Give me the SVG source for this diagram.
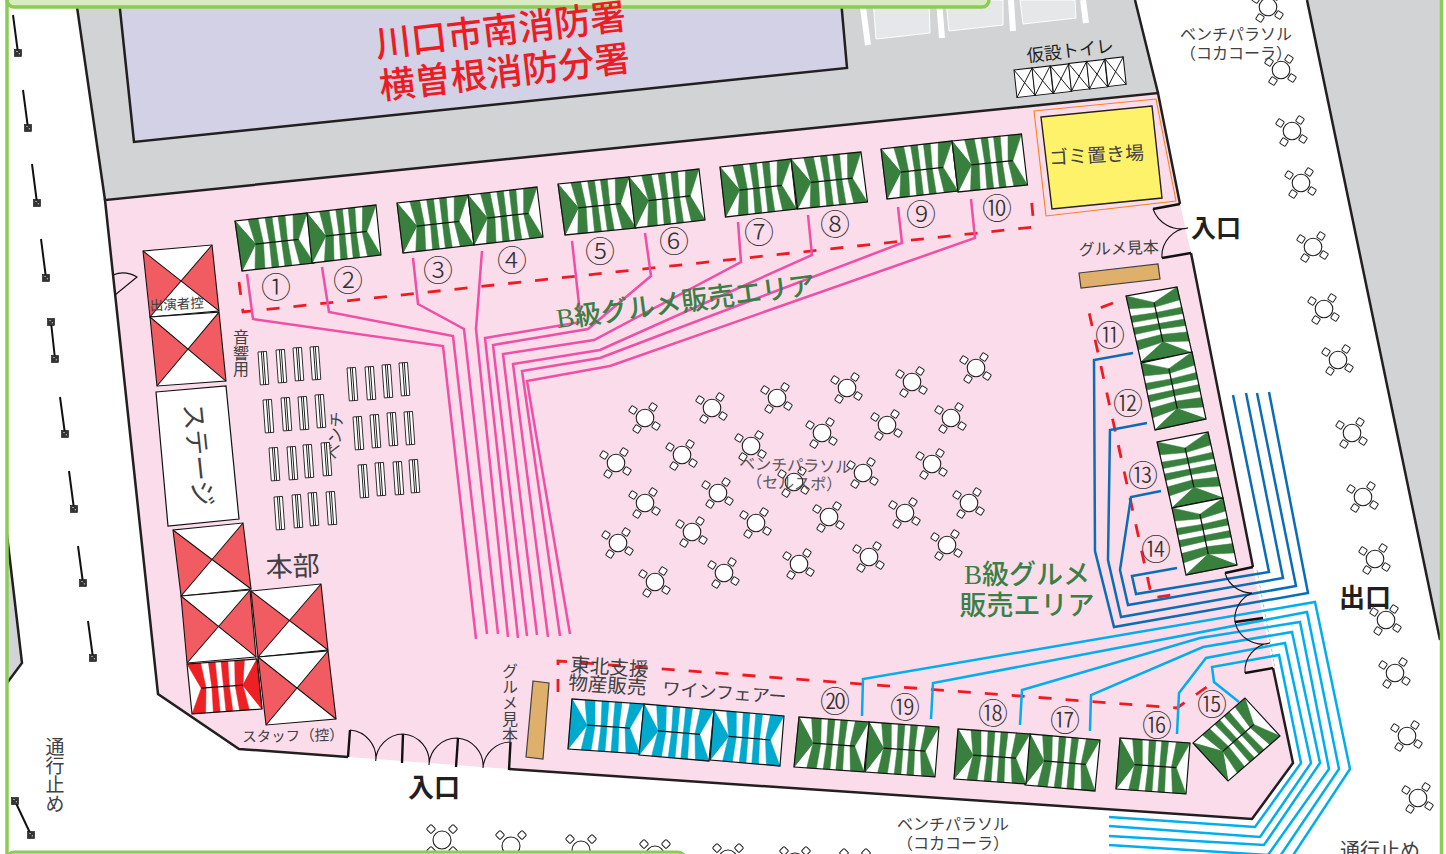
<svg xmlns="http://www.w3.org/2000/svg" width="1446" height="854" viewBox="0 0 1446 854">
<style>
text{font-family:"Noto Sans CJK JP","Noto Sans CJK SC",sans-serif;fill:#414042;text-anchor:middle}
.serif{font-family:"Liberation Serif","Noto Sans CJK JP",serif;fill:#3a7f45;font-size:27px;font-weight:500}
.red{fill:#ed1c24;font-size:36px;font-weight:500}
.n{font-size:30px;fill:#333;font-weight:300}
.b{font-weight:700;fill:#231f20}
.v{writing-mode:vertical-rl}
.edge{fill:none;stroke:#231f20;stroke-width:2.5}
.thin{fill:none;stroke:#111;stroke-width:1.1}
.wall{fill:none;stroke:#111;stroke-width:2.4}
.pink{fill:none;stroke:#ef4fa6;stroke-width:2.5}
.blue{fill:none;stroke:#0a6db5;stroke-width:2.5}
.cyan{fill:none;stroke:#00aeef;stroke-width:2.5}
.dash{fill:none;stroke:#ed1c24;stroke-width:2.8;stroke-dasharray:13 14}
.barr{stroke:#111;stroke-width:2}
</style>
<defs>
<g id="half"><path d="M0,0L17,25L0,50ZM13,0L23,0L25,25L17,25ZM30,0L37,0L37,25L31,25ZM43,0L50,0L49,25L43,25ZM58,0L72,0L60,25L55,25Z" fill="currentColor" stroke="currentColor" stroke-width=".5"/></g>
<g id="tent"><rect width="72" height="50" fill="#fff"/><use href="#half"/><use href="#half" transform="matrix(1 0 0 -1 0 50)"/><rect width="72" height="50" fill="none" stroke="#111" stroke-width="1.2"/><path d="M17,25H60" stroke="#111" stroke-width="1.2"/></g>
<g id="big"><rect width="70" height="67" fill="#fff"/><path d="M0,0L35,33.5L0,67ZM70,0L35,33.5L70,67Z" fill="#f15b62"/><path d="M0,0L70,67M70,0L0,67" stroke="#111"/><rect width="70" height="67" fill="none" stroke="#111" stroke-width="1.1"/></g>
<g id="cell"><rect width="18" height="27" fill="#fff" stroke="#111"/><path d="M0,0L18,27M18,0L0,27" stroke="#111" stroke-width=".9"/></g>
<g id="chair"><rect x="-3.3" y="-3.3" width="6.6" height="6.6" rx="1.2" fill="#fff" stroke="#231f20" stroke-width="1"/></g>
<g id="par"><use href="#chair" transform="translate(-12,-8) rotate(33)"/><use href="#chair" transform="translate(8,-11) rotate(33)"/><use href="#chair" transform="translate(11,8) rotate(33)"/><use href="#chair" transform="translate(-8,11) rotate(33)"/><circle r="8.8" fill="#fff" stroke="#231f20" stroke-width="1.1"/></g>
<g id="parb"><use href="#chair" transform="translate(-11,-11) rotate(45)"/><use href="#chair" transform="translate(11,-11) rotate(45)"/><use href="#chair" transform="translate(11,11) rotate(45)"/><use href="#chair" transform="translate(-11,11) rotate(45)"/><circle r="9" fill="#fff" stroke="#231f20" stroke-width="1.1"/></g>
<g id="bench" transform="rotate(-4)"><rect width="8.500" height="33" fill="#fff" stroke="#231f20" stroke-width=".9"/><path d="M3.400,0V33M5.300,0V33" stroke="#231f20"/></g>
<g id="sq"><rect x="-3.500" y="-3.500" width="7" height="7" fill="#333" stroke="#111" stroke-width=".6"/><path d="M-1.5,-1.5h1M.8,.8h1" stroke="#fff"/></g>
</defs>

<g id="ground">
<polygon points="76,0 1135,0 1158,93 105,200" fill="#d1d3d4"/>
<polygon points="1307,0 1440,0 1440,640" fill="#d1d3d4"/>
<polygon points="7,535 22,663 7,683" fill="#d1d3d4"/>
<path d="M7,535L22,663L7,683" class="edge"/>
<path d="M1307,0L1440,640" class="edge"/>
<path d="M76,0L105,200M1135,0L1158,93" class="edge"/>
<polygon points="119,0 841,0 847,68 134,142" fill="#d2d1e6"/>
<path d="M119,0L134,142L847,68L841,0" class="edge"/>
<polygon points="105,200 1158,93 1180,204 1191,253 1253,567 1273,668 1293,763 1252,819 509,769 348,757 239,749 158,694" fill="#fbdcea"/>
<path d="M1257,570L1275,668" fill="none" stroke="#a7a9ac" stroke-width=".8" stroke-dasharray="3 2"/>
<path d="M348,757L239,749L158,694L105,200L1158,93L1180,204M1191,253L1253,567M1273,668L1293,763L1252,819L509,769" class="edge"/>
</g>

<g id="parking">
<path d="M862,0L868,45" stroke="#fff" stroke-width="6"/><path d="M939,0L942,38" stroke="#fff" stroke-width="6"/><path d="M1011,0L1013,31" stroke="#fff" stroke-width="6"/><path d="M1083,0L1086,23" stroke="#fff" stroke-width="6"/>
<polygon points="873,0 929,0 930,33 876,39" fill="#e6e7e8" stroke="#fff"/>
<polygon points="946,0 1003,0 1003,25 949,31" fill="#e6e7e8" stroke="#fff"/>
<polygon points="1020,0 1075,0 1076,18 1023,24" fill="#e6e7e8" stroke="#fff"/>
</g>

<g id="connectors">
<path class="dash" d="M239,282L243,312L1034,227L1031,195"/>
<path class="dash" d="M1113,303L1089,312L1152,598L1177,594"/>
<path class="dash" d="M558,692L558,661L1177,708L1218,679"/>
<path class="pink" d="M247,274L253,319L443,346L476,639"/>
<path class="pink" d="M322,267L329,312L453,336L487,634"/>
<path class="pink" d="M413,258L418,304L464,329L498,634"/>
<path class="pink" d="M482,251L476,329L508,637"/>
<path class="pink" d="M572,241L581,322L485,338L518,638"/>
<path class="pink" d="M645,233L651,276L588,329L493,345L527,636"/>
<path class="pink" d="M738,222L741,262L594,340L503,354L537,635"/>
<path class="pink" d="M808,215L812,255L600,350L513,364L548,637"/>
<path class="pink" d="M898,207L902,243L600,358L522,371L560,636"/>
<path class="pink" d="M971,199L975,238L610,366L527,381L570,634"/>
<path class="blue" d="M1133,353L1094,360L1095,551L1114,627L1308,593L1269,392"/>
<path class="blue" d="M1147,423L1110,430L1108,560L1121,617L1296,586L1257,393"/>
<path class="blue" d="M1161,491L1131,497L1120,570L1128,605L1283,578L1246,393"/>
<path class="blue" d="M1177,568L1132,576L1136,594L1269,572L1233,395"/>
<path class="cyan" d="M1239,702L1214,682L1212,667L1279,655L1301,763L1255,827L1109,817"/>
<path class="cyan" d="M1177,734L1179,693L1206,658L1285,643L1311,763L1260,837L1109,826"/>
<path class="cyan" d="M1090,731L1091,695L1203,647L1292,632L1320,763L1264,845L1109,836"/>
<path class="cyan" d="M1020,725L1022,690L1200,638L1300,622L1329,769L1268,855L1109,845"/>
<path class="cyan" d="M931,719L933,683L1307,612L1339,769L1274,865L1109,855"/>
<path class="cyan" d="M862,716L863,679L1315,602L1350,769L1280,875L1109,865"/>
</g>

<g id="doors">
<path class="thin" d="M113,275Q125,270 137,277L115,295"/>
<path class="wall" d="M1153,209L1180,204M1162,258L1191,253"/>
<path class="thin" d="M1153,209A30,30 0 0 0 1188,228A28,28 0 0 0 1162,258"/>
<path class="wall" d="M348,757L350,730M403,734L402,763M458,738L456,767M510.5,742L509,770"/>
<path class="thin" d="M350,730A28,28 0 0 1 375.7,761A28,28 0 0 1 403,734A28,28 0 0 1 429,765A28,28 0 0 1 457,738A28,28 0 0 1 483,768A28,28 0 0 1 510,742"/>
<path class="wall" d="M1225,573L1253,567M1235,622L1263,618M1245,673L1273,668"/>
<path class="thin" d="M1225,573A28,28 0 0 0 1252,593A28,28 0 0 0 1235,622A28,28 0 0 0 1270,643A28,28 0 0 0 1245,673"/>
</g>

<g id="barriers">
<path class="barr" d="M13,15L18,53M23,90L28,128M32,164L37,203M41,239L46,278M51,322L55,359M60,397L65,434M69,471L74,509M78,546L83,583M88,621L93,658M15,801L31,835"/>
<use href="#sq" x="18" y="53"/><use href="#sq" x="28" y="128"/><use href="#sq" x="37" y="203"/><use href="#sq" x="46" y="278"/><use href="#sq" x="51" y="322"/><use href="#sq" x="55" y="359"/><use href="#sq" x="65" y="434"/><use href="#sq" x="74" y="509"/><use href="#sq" x="83" y="583"/><use href="#sq" x="93" y="658"/><use href="#sq" x="15" y="801"/><use href="#sq" x="31" y="835"/>
</g>

<g id="toilet">
<use href="#cell" transform="matrix(1.01 -.12 .11 1.02 1014 70)"/><use href="#cell" transform="matrix(1.01 -.12 .11 1.02 1032 68)"/><use href="#cell" transform="matrix(1.01 -.12 .11 1.02 1050.5 66)"/><use href="#cell" transform="matrix(1.01 -.12 .11 1.02 1068.5 63.5)"/><use href="#cell" transform="matrix(1.01 -.12 .11 1.02 1086.5 61.5)"/><use href="#cell" transform="matrix(1.01 -.12 .11 1.02 1105 59)"/>
</g>

<g id="garbage">
<polygon points="1034,111 1156,99 1176,201 1046,216" fill="none" stroke="#f58220" stroke-width="1.1"/>
<polygon points="1041,117 1152,106 1162,198 1052,209" fill="#fff26b" stroke="#231f20" stroke-width="1.4"/>
</g>
<g id="samples">
<polygon points="1079,273 1158,264 1160,279 1081,288" fill="#deb06c" stroke="#414042" stroke-width="1.2"/>
<polygon points="533,681 549,683 543,759 526,757" fill="#deb06c" stroke="#414042" stroke-width="1.2"/>
</g>
<g id="stage"><polygon points="156,392 226,386 239,519 168,526" fill="#fff" stroke="#111" stroke-width="1.2"/></g>

<g id="big-tents">
<use href="#big" transform="matrix(.986 -.086 .104 .985 143 251)"/>
<use href="#big" transform="matrix(.986 -.071 .104 1.03 150 317)"/>
<use href="#big" transform="matrix(1 -.1 .12 .985 173 530)"/>
<use href="#big" transform="matrix(.986 -.086 .09 1 181 596)"/>
<use href="#big" transform="matrix(1 -.1 .104 .985 251 591)"/>
<use href="#big" transform="matrix(1 -.086 .12 1.015 258 657)"/>
</g>

<g id="stalls-green" color="#39803f">
<use href="#tent" transform="matrix(1 -.111 .14 1 235 221)"/>
<use href="#tent" transform="matrix(.958 -.111 .1 1 307 213)"/>
<use href="#tent" transform="matrix(.986 -.111 .12 1 397 203)"/>
<use href="#tent" transform="matrix(.958 -.111 .12 1 468 195)"/>
<use href="#tent" transform="matrix(.986 -.097 .14 1.02 558 184)"/>
<use href="#tent" transform="matrix(.972 -.111 .12 1.02 629 177)"/>
<use href="#tent" transform="matrix(.986 -.111 .11 1 720 167)"/>
<use href="#tent" transform="matrix(.972 -.097 .13 1 791 159)"/>
<use href="#tent" transform="matrix(.986 -.111 .12 1 881 149)"/>
<use href="#tent" transform="matrix(.965 -.097 .12 1.02 952 141)"/>
<use href="#tent" transform="matrix(-.208 -.917 1.02 -.18 1141 362)"/>
<use href="#tent" transform="matrix(-.194 -.931 1.02 -.22 1155 430)"/>
<use href="#tent" transform="matrix(-.208 -.917 1.02 -.2 1172 508)"/>
<use href="#tent" transform="matrix(-.194 -.931 1.02 -.2 1186 575)"/>
<use href="#tent" transform="matrix(.722 -.625 .7 .76 1193 743)"/>
<use href="#tent" transform="matrix(.972 .069 -.08 1.02 1120 738)"/>
<use href="#tent" transform="matrix(.972 .083 -.1 1.02 1030 734)"/>
<use href="#tent" transform="matrix(1 .069 -.08 1 958 729)"/>
<use href="#tent" transform="matrix(.972 .069 -.08 1 869 722)"/>
<use href="#tent" transform="matrix(.972 .069 -.1 1 799 717)"/>
</g>
<g id="stalls-blue" color="#00a9ce">
<use href="#tent" transform="matrix(1 .069 -.08 1 572 699)"/>
<use href="#tent" transform="matrix(.972 .083 -.1 1.02 644 704)"/>
<use href="#tent" transform="matrix(.972 .083 -.08 1 714 710)"/>
</g>
<g id="stall-red" color="#ed2024"><use href="#tent" transform="matrix(-.972 .069 .1 1 257 659)"/></g>

<g id="benches">
<use href="#bench" x="258" y="352"/><use href="#bench" x="276" y="350"/><use href="#bench" x="293" y="348"/><use href="#bench" x="310" y="347"/>
<use href="#bench" x="263" y="400"/><use href="#bench" x="281" y="398"/><use href="#bench" x="298" y="397"/><use href="#bench" x="315" y="395"/>
<use href="#bench" x="269" y="448"/><use href="#bench" x="287" y="447"/><use href="#bench" x="303" y="445"/><use href="#bench" x="321" y="443"/>
<use href="#bench" x="274" y="497"/><use href="#bench" x="292" y="495"/><use href="#bench" x="308" y="493"/><use href="#bench" x="326" y="492"/>
<use href="#bench" x="347" y="368"/><use href="#bench" x="365" y="367"/><use href="#bench" x="382" y="365"/><use href="#bench" x="399" y="363"/>
<use href="#bench" x="353" y="417"/><use href="#bench" x="370" y="415"/><use href="#bench" x="387" y="413"/><use href="#bench" x="404" y="412"/>
<use href="#bench" x="358" y="465"/><use href="#bench" x="375" y="463"/><use href="#bench" x="393" y="462"/><use href="#bench" x="409" y="460"/>
</g>

<g id="parasols">
<use href="#par" x="645" y="418"/><use href="#par" x="712" y="408"/><use href="#par" x="777" y="398"/><use href="#par" x="847" y="388"/><use href="#par" x="912" y="382"/><use href="#par" x="976" y="368"/>
<use href="#par" x="616" y="463"/><use href="#par" x="682" y="455"/><use href="#par" x="751" y="446"/><use href="#par" x="822" y="433"/><use href="#par" x="887" y="425"/><use href="#par" x="951" y="418"/>
<use href="#par" x="645" y="503"/><use href="#par" x="718" y="493"/><use href="#par" x="794" y="482"/><use href="#par" x="863" y="473"/><use href="#par" x="932" y="464"/>
<use href="#par" x="618" y="543"/><use href="#par" x="692" y="532"/><use href="#par" x="756" y="523"/><use href="#par" x="829" y="517"/><use href="#par" x="905" y="513"/><use href="#par" x="969" y="503"/>
<use href="#par" x="655" y="582"/><use href="#par" x="724" y="573"/><use href="#par" x="799" y="564"/><use href="#par" x="869" y="557"/><use href="#par" x="947" y="545"/>
<use href="#par" x="1268" y="7"/><use href="#par" x="1281" y="70"/><use href="#par" x="1292" y="131"/><use href="#par" x="1301" y="183"/><use href="#par" x="1313" y="247"/><use href="#par" x="1324" y="309"/><use href="#par" x="1338" y="360"/><use href="#par" x="1352" y="433"/><use href="#par" x="1363" y="497"/><use href="#par" x="1375" y="559"/><use href="#par" x="1386" y="620"/><use href="#par" x="1395" y="673"/><use href="#par" x="1407" y="736"/><use href="#par" x="1418" y="798"/>
<use href="#parb" x="442" y="840"/><use href="#parb" x="511" y="846"/><use href="#parb" x="581" y="850"/><use href="#parb" x="655" y="855"/><use href="#parb" x="728" y="859"/><use href="#parb" x="795" y="862"/><use href="#parb" x="855" y="864"/>
</g>

<g id="frame">
<rect x="7" y="-20" width="982" height="27" rx="7" fill="#d8ebc1" stroke="#8ccb56" stroke-width="3.5"/>
<path d="M7,0V854M1441.500,0V854" stroke="#8ccb56" stroke-width="3.500" fill="none"/>
<rect x="7" y="852" width="678" height="20" rx="7" fill="#d8ebc1" stroke="#8ccb56" stroke-width="3"/>
</g>

<g id="labels">
<text class="red" transform="translate(502,43) rotate(-6.500)">川口市南消防署</text>
<text class="red" transform="translate(506,85) rotate(-6.500)">横曽根消防分署</text>
<text font-size="17.500" transform="translate(1071,57) rotate(-7)" style="fill:#231f20">仮設トイレ</text>
<text font-size="16" x="1236" y="40">ベンチパラソル</text>
<text font-size="16" x="1236" y="59">（コカコーラ）</text>
<text font-size="19" transform="translate(1097,162) rotate(-3)">ゴミ置き場</text>
<text font-size="16" transform="translate(1119,254) rotate(-2)">グルメ見本</text>
<text class="b" font-size="25" x="1216" y="237">入口</text>
<text class="b" font-size="26" x="1365" y="607">出口</text>
<text class="b" font-size="26" x="434" y="797">入口</text>
<text class="serif" transform="translate(687,311) rotate(-7.500)">B級グルメ販売エリア</text>
<text class="serif" x="1027" y="584">B級グルメ</text>
<text class="serif" x="1027" y="615">販売エリア</text>
<text font-size="13.500" transform="translate(177,309) rotate(-3)">出演者控</text>
<text class="v" font-size="16" x="241" y="353">音響用</text>
<text font-size="26" transform="translate(189,456) rotate(84)">ステージ</text>
<text font-size="16" transform="translate(341,436) rotate(-85)">ベンチ</text>
<text font-size="27" transform="translate(293,576) rotate(-2)">本部</text>
<text font-size="14.500" transform="translate(293,741) rotate(-1)">スタッフ（控）</text>
<text class="v" font-size="16" x="510" y="703">グルメ見本</text>
<text font-size="19.500" transform="translate(609,674) rotate(4)">東北支援</text>
<text font-size="19.500" transform="translate(607,692) rotate(4)">物産販売</text>
<text font-size="18" transform="translate(724,699) rotate(4)">ワインフェアー</text>
<text font-size="16" transform="translate(795,471) rotate(2)" opacity=".85">ベンチパラソル</text>
<text font-size="16" transform="translate(794,489) rotate(2)" opacity=".85">（セルスポ）</text>
<text font-size="16" x="953" y="830">ベンチパラソル</text>
<text font-size="16" x="953" y="849">（コカコーラ）</text>
<text class="v" font-size="19" x="55" y="775">通行止め</text>
<text font-size="20" x="1380" y="858">通行止め</text>
<text class="n" x="276" y="298">①</text><text class="n" x="348" y="291">②</text><text class="n" x="438" y="281">③</text><text class="n" x="512" y="271">④</text><text class="n" x="600" y="262">⑤</text><text class="n" x="674" y="252">⑥</text><text class="n" x="759" y="243">⑦</text><text class="n" x="835" y="235">⑧</text><text class="n" x="921" y="225">⑨</text><text class="n" x="997" y="219">⑩</text>
<text class="n" x="1110" y="346">⑪</text><text class="n" x="1128" y="414">⑫</text><text class="n" x="1143" y="486">⑬</text><text class="n" x="1156" y="560">⑭</text><text class="n" x="1212" y="715">⑮</text><text class="n" x="1157" y="736">⑯</text><text class="n" x="1065" y="731">⑰</text><text class="n" x="993" y="724">⑱</text><text class="n" x="905" y="718">⑲</text><text class="n" x="835" y="712">⑳</text>
</g>
</svg>
